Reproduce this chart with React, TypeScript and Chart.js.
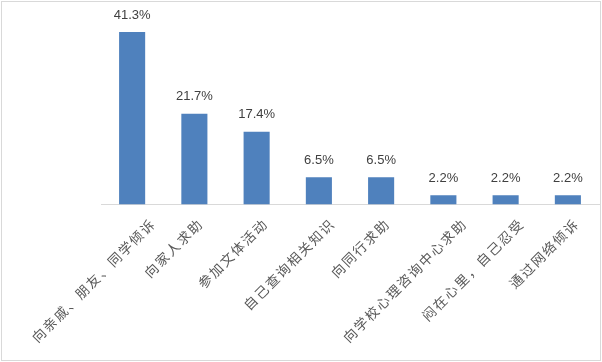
import React, { useEffect, useRef } from "react";
import { Chart, registerables } from "chart.js";

Chart.register(...registerables);

const categories: string[] = [
  "向亲戚、朋友、同学倾诉",
  "向家人求助",
  "参加文体活动",
  "自己查询相关知识",
  "向同行求助",
  "向学校心理咨询中心求助",
  "闷在心里，自己忍受",
  "通过网络倾诉",
];
const values: number[] = [41.3, 21.7, 17.4, 6.5, 6.5, 2.2, 2.2, 2.2];

const BAR_COLOR = "#4F81BD";
const TEXT_COLOR = "#595959";
const LINE_COLOR = "#D9D9D9";

const decorPlugin = {
  id: "decor",
  afterDraw(chart: any) {
    const ctx = chart.ctx as CanvasRenderingContext2D;
    // outer frame
    ctx.save();
    ctx.strokeStyle = LINE_COLOR;
    ctx.lineWidth = 1;
    ctx.strokeRect(1.5, 1.5, 599, 359);
    ctx.restore();

    // value labels
    const meta = chart.getDatasetMeta(0);
    ctx.save();
    ctx.fillStyle = "#404040";
    ctx.font = '13px "Liberation Sans", Arial, sans-serif';
    ctx.textAlign = "center";
    ctx.textBaseline = "middle";
    meta.data.forEach((bar: any, i: number) => {
      ctx.fillText(values[i].toFixed(1) + "%", bar.x, bar.y - 17);
    });
    ctx.restore();

    // rotated category labels
    const xs = chart.scales.x;
    const baseY = chart.chartArea.bottom;
    const adv = 15.3;
    const d = adv * Math.SQRT1_2;
    ctx.save();
    ctx.fillStyle = TEXT_COLOR;
    ctx.font = '13.5px "Noto Sans CJK SC", sans-serif';
    ctx.textAlign = "center";
    ctx.textBaseline = "middle";
    categories.forEach((label, i) => {
      const chars = Array.from(label);
      const n = chars.length;
      const tick = xs.getPixelForValue(i);
      const endX = tick + 0.25 + 2.45 * (n - 5);
      const endY = baseY + 22.5;
      chars.forEach((ch, j) => {
        const k = n - 1 - j;
        ctx.save();
        ctx.translate(endX - k * d, endY + k * d);
        ctx.rotate(-Math.PI / 4);
        ctx.fillText(ch, 0, 0);
        ctx.restore();
      });
    });
    ctx.restore();
  },
};

export default function App() {
  const ref = useRef<HTMLCanvasElement | null>(null);

  useEffect(() => {
    if (!ref.current) return;
    const chart = new Chart(ref.current, {
      type: "bar",
      data: {
        labels: categories,
        datasets: [
          {
            data: values,
            backgroundColor: BAR_COLOR,
            borderWidth: 0,
            barPercentage: 0.419,
            categoryPercentage: 1,
          },
        ],
      },
      options: {
        responsive: false,
        animation: false,
        devicePixelRatio: 1,
        layout: { padding: { left: 101, right: 3, top: 16.5, bottom: 157.5 } },
        plugins: {
          legend: { display: false },
          tooltip: { enabled: false },
          title: { display: false },
        },
        scales: {
          x: {
            type: "category",
            offset: true,
            grid: { display: false, drawTicks: false },
            ticks: { display: false },
            border: { display: true, color: LINE_COLOR, width: 1 },
          },
          y: {
            display: false,
            min: 0,
            max: 45,
          },
        },
      },
      plugins: [decorPlugin],
    });
    return () => chart.destroy();
  }, []);

  return (
    <div style={{ position: "absolute", left: 0, top: 0, width: 602, height: 362, background: "#fff" }}>
      <canvas ref={ref} width={602} height={362} style={{ display: "block" }} />
    </div>
  );
}
